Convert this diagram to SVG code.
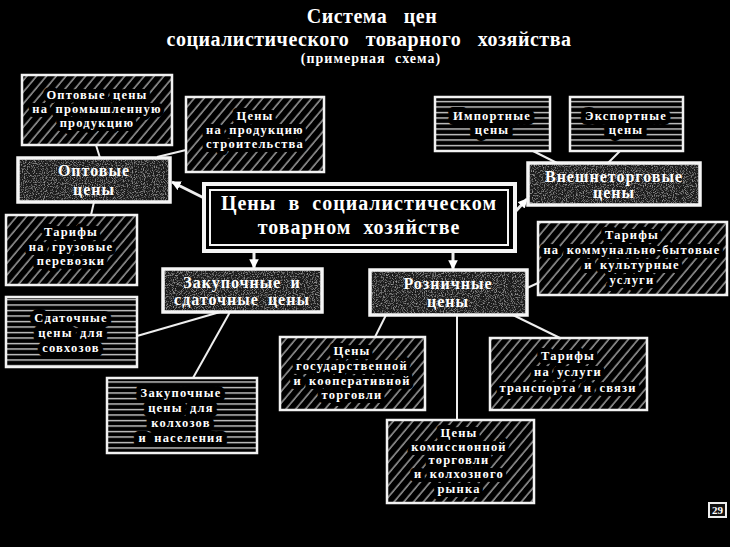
<svg xmlns="http://www.w3.org/2000/svg" width="730" height="547" viewBox="0 0 730 547">
<style>
text{font-family:"Liberation Serif","DejaVu Serif",serif;font-weight:bold;fill:#fff;text-anchor:middle}
.title{font-size:20px;letter-spacing:0.5px;word-spacing:11px}
.sub{font-size:14px;letter-spacing:1px;word-spacing:5px}
.sm{font-size:12.5px;letter-spacing:1.2px;word-spacing:3px;stroke:#000;stroke-width:8px;stroke-linejoin:round;paint-order:stroke}
.sl{font-size:12.5px;letter-spacing:1.2px;word-spacing:3px;stroke:#000;stroke-width:10px;stroke-linejoin:round;paint-order:stroke}
.tx{font-size:16px;letter-spacing:1px;word-spacing:4px}
.ctr{font-size:20px;letter-spacing:1px;word-spacing:6px}
.hatch{fill:url(#diag);stroke:none}
.lines{fill:url(#horiz);stroke:none}
.bd{fill:none;stroke:#f2f2f2;stroke-width:2.5}
.tex{fill:#1c1c1c;filter:url(#grain)}
.texb{fill:none;stroke:#f5f5f5;stroke-width:3.5}
.con{stroke:#eee;stroke-width:2;fill:none}
.arr{stroke:#eee;stroke-width:3;fill:none;marker-end:url(#ah)}
</style>
<defs>
<pattern id="diag" patternUnits="userSpaceOnUse" width="7.5" height="7.5" patternTransform="rotate(40)">
<rect width="7.5" height="7.5" fill="#000"/>
<line x1="2" y1="0" x2="2" y2="7.5" stroke="#a8a8a8" stroke-width="1.4"/>
</pattern>
<pattern id="horiz" patternUnits="userSpaceOnUse" width="40" height="5.5">
<rect width="40" height="5.5" fill="#000"/>
<line x1="0" y1="2.5" x2="40" y2="2.5" stroke="#d0d0d0" stroke-width="1.3"/>
</pattern>
<filter id="grain" x="0" y="0" width="100%" height="100%">
<feTurbulence type="fractalNoise" baseFrequency="0.9" numOctaves="2" seed="4" result="n"/>
<feColorMatrix in="n" type="matrix" values="0 0 0 0 0.6 0 0 0 0 0.6 0 0 0 0 0.6 1.6 0 0 0 -0.8" result="spots"/>
<feComposite in="spots" in2="SourceGraphic" operator="in" result="s2"/>
<feMerge><feMergeNode in="SourceGraphic"/><feMergeNode in="s2"/></feMerge>
</filter>
<marker id="ah" viewBox="0 0 10 10" refX="9" refY="5" markerWidth="3.2" markerHeight="3.2" orient="auto" markerUnits="strokeWidth">
<path d="M0,0 L10,5 L0,10 z" fill="#fff"/>
</marker>
</defs>
<rect width="730" height="547" fill="#000"/>

<g id="title">
<text class="title" x="372" y="23">Система цен</text>
<text class="title" x="369" y="46">социалистического товарного хозяйства</text>
<text class="sub" x="371" y="63">(примерная схема)</text>
</g>

<g id="connectors">
<line class="con" x1="96" y1="145" x2="100" y2="158"/>
<line class="con" x1="157" y1="157" x2="186" y2="150"/>
<line class="con" x1="94" y1="202" x2="91" y2="215"/>
<line class="con" x1="533" y1="151" x2="557" y2="163"/>
<line class="con" x1="620" y1="151" x2="608" y2="163"/>
<line class="con" x1="137" y1="336" x2="220" y2="312"/>
<line class="con" x1="230" y1="312" x2="193" y2="378"/>
<line class="con" x1="527" y1="288" x2="538" y2="283"/>
<line class="con" x1="513" y1="315" x2="560" y2="338"/>
<line class="con" x1="386" y1="315" x2="375" y2="337"/>
<line class="con" x1="457" y1="315" x2="457" y2="420"/>
<line class="arr" x1="204" y1="198" x2="172" y2="182"/>
<line class="arr" x1="515" y1="212" x2="527" y2="199"/>
<line class="arr" x1="254" y1="252" x2="254" y2="268"/>
<line class="arr" x1="453" y1="252" x2="453" y2="269"/>
</g>

<g id="n-center">
<rect x="204" y="184" width="311" height="67" fill="#000" stroke="#f5f5f5" stroke-width="4"/>
<rect x="210" y="190" width="298" height="55" fill="none" stroke="#f5f5f5" stroke-width="2"/>
<text class="ctr" x="359" y="210">Цены в социалистическом</text>
<text class="ctr" x="359" y="234">товарном хозяйстве</text>
</g>

<g id="n-opt-prom">
<rect class="hatch" x="22" y="75" width="150" height="70"/>
<text class="sm" x="97" y="99">Оптовые цены</text>
<text class="sm" x="97" y="113">на промышленную</text>
<text class="sm" x="97" y="127">продукцию</text>
<rect class="bd" x="22" y="75" width="150" height="70"/>
</g>

<g id="n-stroit">
<rect class="hatch" x="186" y="97" width="138" height="75"/>
<text class="sm" x="255" y="120">Цены</text>
<text class="sm" x="255" y="134">на продукцию</text>
<text class="sm" x="255" y="148">строительства</text>
<rect class="bd" x="186" y="97" width="138" height="75"/>
</g>

<g id="n-optovye">
<rect class="tex" x="18" y="158" width="152" height="44"/>
<rect class="texb" x="18" y="158" width="152" height="44"/>
<text class="tx" x="94" y="176">Оптовые</text>
<text class="tx" x="94" y="195">цены</text>
</g>

<g id="n-gruz">
<rect class="hatch" x="6" y="215" width="131" height="70"/>
<text class="sm" x="71" y="236">Тарифы</text>
<text class="sm" x="71" y="251">на грузовые</text>
<text class="sm" x="71" y="265">перевозки</text>
<rect class="bd" x="6" y="215" width="131" height="70"/>
</g>

<g id="n-sdat-sovh">
<rect class="lines" x="6" y="297" width="131" height="70"/>
<text class="sl" x="71" y="322">Сдаточные</text>
<text class="sl" x="71" y="337">цены для</text>
<text class="sl" x="71" y="352">совхозов</text>
<rect class="bd" x="6" y="297" width="131" height="70"/>
</g>

<g id="n-zakup">
<rect class="tex" x="163" y="269" width="159" height="43"/>
<rect class="texb" x="163" y="269" width="159" height="43"/>
<text class="tx" x="242" y="288">Закупочные и</text>
<text class="tx" x="242" y="305">сдаточные цены</text>
</g>

<g id="n-zakup-kolh">
<rect class="lines" x="107" y="378" width="150" height="75"/>
<text class="sl" x="181" y="397">Закупочные</text>
<text class="sl" x="181" y="412">цены для</text>
<text class="sl" x="181" y="427">колхозов</text>
<text class="sl" x="181" y="442">и населения</text>
<rect class="bd" x="107" y="378" width="150" height="75"/>
</g>

<g id="n-rozn">
<rect class="tex" x="370" y="270" width="157" height="45"/>
<rect class="texb" x="370" y="270" width="157" height="45"/>
<text class="tx" x="448" y="289">Розничные</text>
<text class="tx" x="448" y="307">цены</text>
</g>

<g id="n-kommun">
<rect class="hatch" x="538" y="222" width="189" height="73"/>
<text class="sm" x="632" y="239">Тарифы</text>
<text class="sm" x="632" y="254">на коммунально-бытовые</text>
<text class="sm" x="632" y="269">и культурные</text>
<text class="sm" x="632" y="284">услуги</text>
<rect class="bd" x="538" y="222" width="189" height="73"/>
</g>

<g id="n-transp">
<rect class="hatch" x="490" y="338" width="157" height="72"/>
<text class="sm" x="568" y="360">Тарифы</text>
<text class="sm" x="568" y="376">на услуги</text>
<text class="sm" x="568" y="392">транспорта и связи</text>
<rect class="bd" x="490" y="338" width="157" height="72"/>
</g>

<g id="n-gos">
<rect class="hatch" x="280" y="337" width="145" height="73"/>
<text class="sm" x="352" y="355">Цены</text>
<text class="sm" x="352" y="370">государственной</text>
<text class="sm" x="352" y="385">и кооперативной</text>
<text class="sm" x="352" y="399">торговли</text>
<rect class="bd" x="280" y="337" width="145" height="73"/>
</g>

<g id="n-komis">
<rect class="hatch" x="387" y="420" width="147" height="83"/>
<text class="sm" x="459" y="437">Цены</text>
<text class="sm" x="459" y="451">комиссионной</text>
<text class="sm" x="459" y="464">торговли</text>
<text class="sm" x="459" y="478">и колхозного</text>
<text class="sm" x="459" y="493">рынка</text>
<rect class="bd" x="387" y="420" width="147" height="83"/>
</g>

<g id="n-import">
<rect class="lines" x="435" y="97" width="115" height="54"/>
<text class="sl" x="492" y="120">Импортные</text>
<text class="sl" x="492" y="134">цены</text>
<rect class="bd" x="435" y="97" width="115" height="54"/>
</g>

<g id="n-export">
<rect class="lines" x="570" y="97" width="113" height="54"/>
<text class="sl" x="626" y="120">Экспортные</text>
<text class="sl" x="626" y="134">цены</text>
<rect class="bd" x="570" y="97" width="113" height="54"/>
</g>

<g id="n-vnesh">
<rect class="tex" x="528" y="163" width="172" height="42"/>
<rect class="texb" x="528" y="163" width="172" height="42"/>
<text class="tx" x="614" y="182">Внешнеторговые</text>
<text class="tx" x="614" y="198">цены</text>
</g>

<g id="page-num">
<rect x="709" y="503" width="17" height="14" fill="#111" stroke="#eee" stroke-width="2"/>
<text x="717.5" y="514" font-size="11px">29</text>
</g>
</svg>
